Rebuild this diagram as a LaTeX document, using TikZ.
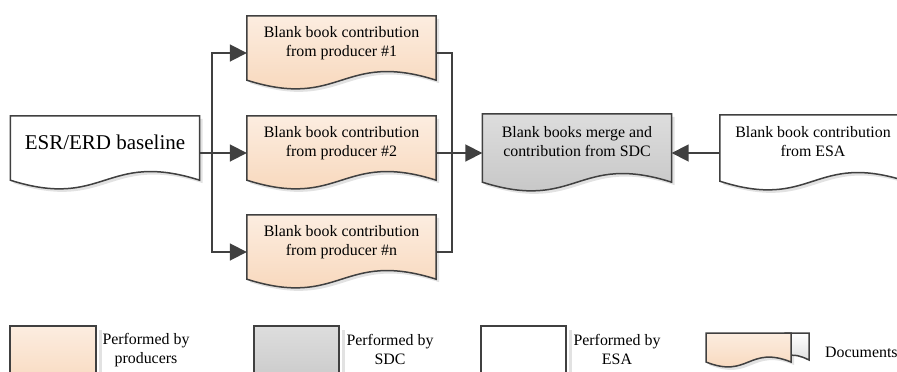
\documentclass[tikz,border=0pt]{standalone}
\usepackage{fontspec}
\setmainfont{Liberation Serif}
\usetikzlibrary{calc,arrows.meta}
\pgfdeclarelayer{background}
\pgfsetlayers{background,main}
\definecolor{linec}{HTML}{404040}
\definecolor{peachtop}{HTML}{FCEDE0}
\definecolor{peachbot}{HTML}{F7D3B4}
\definecolor{graytop}{HTML}{DDDDDD}
\definecolor{graybot}{HTML}{C2C2C2}
\definecolor{shadowc}{HTML}{E2E2E2}
\newcommand\dtxt[2]{\raisebox{#1}[0pt][0pt]{\begin{tabular}{@{}c@{}}#2\end{tabular}}}
\newcommand\docoutline[3]{%
  \path[#2] (#1.north west) -- (#1.north east) -- ($(#1.south east)+(0,-10)$)
    .. controls ($(#1.south)+(0,-10-#3)$) and ($(#1.south)+(0,-10+#3)$) .. ($(#1.south west)+(0,-10)$) -- cycle;}
\begin{document}
\begin{tikzpicture}[x=1pt,y=-1pt,
  docbox/.style={minimum width=189pt,minimum height=74pt,inner sep=0pt,font=\fontsize{15.9}{19}\selectfont},
  docline/.style={draw=linec,line width=1.5pt},
  peachfill/.style={top color=peachtop,bottom color=peachbot},
  grayfill/.style={top color=graytop,bottom color=graybot},
  whitefill/.style={fill=white},
  conn/.style={draw=linec,line width=1.8pt},
  arr/.style={conn,-{Triangle[length=17pt,width=17pt]}},
  shadowed/.style={fill=shadowc,draw=none},
  legtext/.style={align=center,font=\fontsize{15.9}{19}\selectfont,inner sep=0pt},
  legbox/.style={minimum width=86pt,minimum height=80pt,inner sep=0pt,draw=linec,line width=1.5pt}]
\useasboundingbox (0,0) rectangle (897,372);
\clip (0,0) rectangle (897,372);

% document nodes
\node[docbox] (esr) at (105,153) {\dtxt{3.5pt}{\fontsize{21}{25}\selectfont ESR/ERD baseline}};
\node[docbox] (p1) at (341.5,53) {\dtxt{5.6pt}{Blank book contribution\\from producer \#1}};
\node[docbox] (p2) at (341.5,153) {\dtxt{5.6pt}{Blank book contribution\\from producer \#2}};
\node[docbox] (p3) at (341.5,252) {\dtxt{5.6pt}{Blank book contribution\\from producer \#n}};
\node[docbox,minimum height=78pt] (sdc) at (577,153) {\dtxt{5.6pt}{Blank books merge and\\contribution from SDC}};
\node[docbox,minimum width=186pt,minimum height=76pt] (esa) at (813,153) {\dtxt{5.6pt}{Blank book contribution\\from ESA}};

\begin{pgfonlayer}{background}
  \begin{scope}[transform canvas={xshift=3pt,yshift=-3pt}]
    \docoutline{esr}{shadowed}{30}
    \docoutline{p1}{shadowed}{30}
    \docoutline{p2}{shadowed}{30}
    \docoutline{p3}{shadowed}{30}
    \docoutline{sdc}{shadowed}{30}
    \docoutline{esa}{shadowed}{30}
  \end{scope}
  \docoutline{esr}{docline,whitefill}{30}
  \docoutline{p1}{docline,peachfill}{30}
  \docoutline{p2}{docline,peachfill}{30}
  \docoutline{p3}{docline,peachfill}{30}
  \docoutline{sdc}{docline,grayfill}{30}
  \docoutline{esa}{docline,whitefill}{30}
\end{pgfonlayer}

% connectors
\coordinate (jl) at ($(esr.east)+(12,0)$);
\coordinate (jr) at ($(p2.east)+(16,0)$);
\draw[conn] (esr.east) -- (jl);
\draw[arr] (jl) |- (p1.west);
\draw[arr] (jl) -- (p2.west);
\draw[arr] (jl) |- (p3.west);
\draw[conn] (p1.east) -| (jr);
\draw[conn] (p3.east) -| (jr);
\draw[arr] (p2.east) -- (sdc.west);
\draw[arr] (esa.west) -- (sdc.east);

% legend
\fill[shadowc] (99,330) rectangle (102,400);
\fill[shadowc] (342,330) rectangle (345,400);
\fill[shadowc] (569,330) rectangle (572,400);
\node[legbox,peachfill] (lb1) at (53,366) {};
\node[legbox,minimum width=85pt,grayfill] (lb2) at (296.5,366) {};
\node[legbox,minimum width=85pt,whitefill] (lb3) at (523.5,366) {};
\node[legtext] (lt1) at (146,350.5) {Performed by\\producers};
\node[legtext] (lt2) at (390,349) {Performed by\\SDC};
\node[legtext] (lt3) at (617,349) {Performed by\\ESA};
\node[legtext,anchor=west] (lt4) at (825,352) {Documents};

% documents icon
\path[shadowed] (709,336) -- (794,336) -- (794,365) .. controls (751.5,348) and (751.5,382) .. (709,365) -- cycle;
\path[docline,top color=white,bottom color=white!88!black] (785,333) -- (809,333) -- (809,360) .. controls (801,356) and (795,354) .. (785,356) -- cycle;
\path[docline,peachfill] (706,333) -- (791,333) -- (791,362) .. controls (748.5,345) and (748.5,379) .. (706,362) -- cycle;
\end{tikzpicture}
\end{document}
